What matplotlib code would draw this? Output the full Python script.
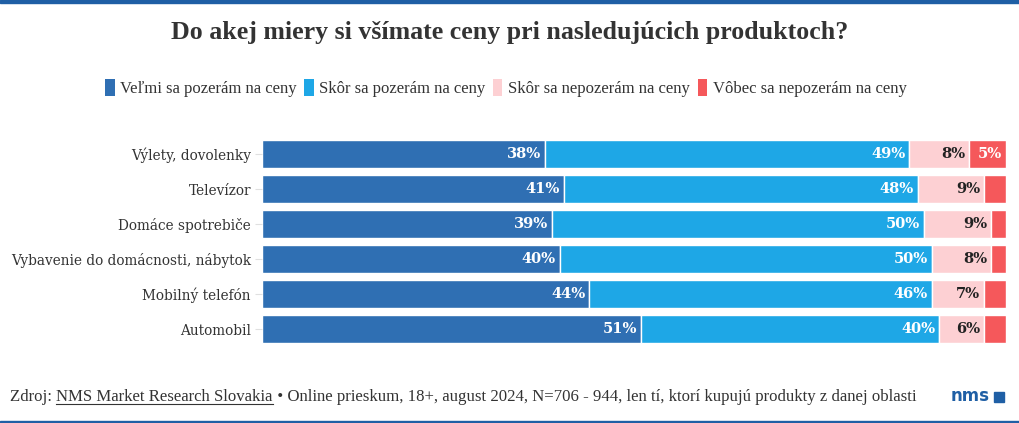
import matplotlib
matplotlib.use("Agg")
import matplotlib.pyplot as plt
from matplotlib.patches import Rectangle, Patch
import numpy as np

categories = ["Výlety, dovolenky", "Televízor", "Domáce spotrebiče",
              "Vybavenie do domácnosti, nábytok", "Mobilný telefón", "Automobil"]
series_names = ["Veľmi sa pozerám na ceny", "Skôr sa pozerám na ceny",
                "Skôr sa nepozerám na ceny", "Vôbec sa nepozerám na ceny"]
velmi = [38, 41, 39, 40, 44, 51]
skor = [49, 48, 50, 50, 46, 40]
skor_nie = [8, 9, 9, 8, 7, 6]
vobec = [5, 3, 2, 2, 3, 3]
colors = ["#2f6fb3", "#1ea7e6", "#fdd0d3", "#f5585b"]
label_colors = ["white", "white", "#222222", "white"]

W, H = 1020, 423
fig = plt.figure(figsize=(W / 100, H / 100), dpi=100)
fig.patch.set_facecolor("white")

# axes placement (pixels)
ax_left, ax_right = 262, 1006
ax_top, ax_bottom = 136.5, 346.5
ax = fig.add_axes([ax_left / W, 1 - ax_bottom / H, (ax_right - ax_left) / W, (ax_bottom - ax_top) / H])

data = np.array([velmi, skor, skor_nie, vobec], dtype=float)
totals = data.sum(axis=0)
shares = data / totals * 100
y = np.arange(len(categories))
left = np.zeros(len(categories))
for i in range(4):
    ax.barh(y, shares[i], left=left, height=0.8, color=colors[i],
            edgecolor="white", linewidth=1.0)
    for j in range(len(categories)):
        v = data[i, j]
        if v >= 5:
            ax.text(left[j] + shares[i, j] - 0.5, y[j], f"{int(v)}%",
                    ha="right", va="center", color=label_colors[i],
                    fontsize=10.5, fontweight="semibold", family="DejaVu Serif")
    left += shares[i]

ax.set_xlim(0, 100)
ax.set_ylim(len(categories) - 0.5, -0.5)
ax.set_yticks(y)
ax.set_yticklabels(categories, family="DejaVu Serif", fontsize=9.8, color="#333333")
ax.tick_params(axis="y", length=5, color="#e0e0e0", pad=3)
ax.set_xticks([])
for s in ax.spines.values():
    s.set_visible(False)

# top / bottom bands
fig.add_artist(Rectangle((0, 1 - 3 / H), 1, 3 / H, transform=fig.transFigure, color="#1f5fa5"))
fig.add_artist(Rectangle((0, 0), 1, 2 / H, transform=fig.transFigure, color="#1f5fa5"))

# title
fig.text(0.5, 1 - 33 / H, "Do akej miery si všímate ceny pri nasledujúcich produktoch?",
         ha="center", va="center", fontsize=18.6, fontweight="bold",
         family="Liberation Serif", color="#333333")

# legend
handles = [Patch(facecolor=c, edgecolor="none") for c in colors]
leg = fig.legend(handles, series_names, loc="center", bbox_to_anchor=(0.496, 1 - 88 / H),
                 ncol=4, frameon=False, handlelength=0.55, handleheight=1.2,
                 handletextpad=0.35, columnspacing=0.45,
                 prop={"family": "Liberation Serif", "size": 12})
for t in leg.get_texts():
    t.set_color("#333333")

# footer
fig.canvas.draw()
r = fig.canvas.get_renderer()
fy = 1 - 397 / H
fp = dict(family="Liberation Serif", fontsize=12.1, color="#333333", va="center")
t1 = fig.text(10 / W, fy, "Zdroj: ", ha="left", **fp)
bb1 = t1.get_window_extent(r)
t2 = fig.text(bb1.x1 / W, fy, "NMS Market Research Slovakia", ha="left", **fp)
bb2 = t2.get_window_extent(r)
fig.add_artist(plt.Line2D([bb2.x0 / W, bb2.x1 / W], [(bb2.y0 + 1) / H] * 2,
                          transform=fig.transFigure, color="#333333", linewidth=0.8))
fig.text(bb2.x1 / W, fy, " • Online prieskum, 18+, august 2024, N=706 - 944, len tí, ktorí kupujú produkty z danej oblasti",
         ha="left", **fp)

fig.text(990 / W, 1 - 396 / H, "nms", ha="right", va="center", fontsize=12,
         fontweight="bold", family="DejaVu Sans", color="#1f5fa5")
fig.add_artist(Rectangle((994 / W, 1 - 402 / H), 10 / W, 10 / H,
                         transform=fig.transFigure, color="#1f5fa5"))

fig.savefig("out.png", dpi=100, facecolor="white")
